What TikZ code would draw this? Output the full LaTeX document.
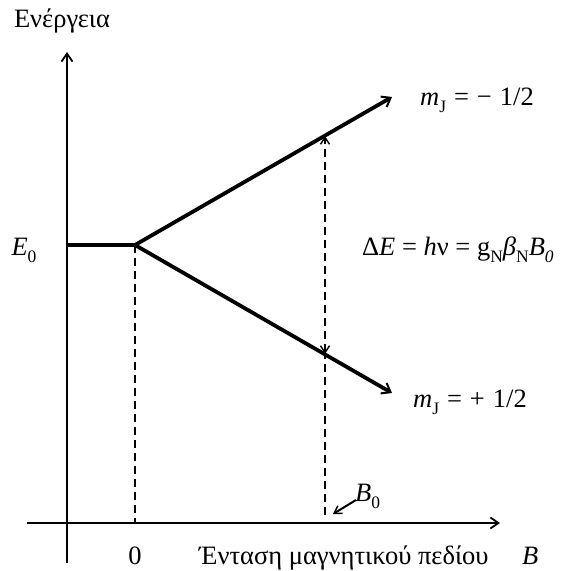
\documentclass[tikz,border=0pt]{standalone}
\usepackage{fontspec}
\usepackage{graphicx}
\setmainfont{Liberation Serif}
\usetikzlibrary{arrows.meta}
\newcommand\lowsub[1]{\raisebox{-0.28em}{\scalebox{0.66}{#1}}}
\tikzset{
  lbl/.style={inner sep=0pt, font=\fontsize{26.5}{30}\selectfont},
  axisline/.style={line width=2.8pt, -{Straight Barb[length=8pt,width=11pt,line width=1.8pt]}},
  levelline/.style={line width=3.8pt},
  levelarrow/.style={line width=3.8pt, -{Straight Barb[length=8pt,width=12pt,line width=2pt]}},
  dashline/.style={line width=1.8pt, dash pattern=on 8pt off 5pt},
  gaparrow/.style={line width=1.8pt, dash pattern=on 8pt off 5pt, {Straight Barb[length=7pt,width=9pt,line width=1.4pt]}-{Straight Barb[length=7pt,width=9pt,line width=1.4pt]}},
  ptr/.style={line width=2pt, -{Straight Barb[length=7pt,width=9pt,line width=1.5pt]}}
}
\begin{document}
\begin{tikzpicture}[x=1pt,y=-1pt]
\useasboundingbox (0,0) rectangle (571,571);
% coordinates
\coordinate (ybot) at (67,563);
\coordinate (ytop) at (67,52);
\coordinate (xl) at (27,523);
\coordinate (xr) at (500,523);
\coordinate (e0) at (67,245);
\coordinate (split) at (135,245);
\coordinate (zero) at (135,523);
\coordinate (up) at (392,97);
\coordinate (dn) at (392,393);
\coordinate (gtop) at (325,136);
\coordinate (gbot) at (325,354);
\coordinate (gaxis) at (325,515);
\coordinate (ptail) at (356,500);
\coordinate (phead) at (333,514);
% axes
\draw[axisline] (ybot) -- (ytop);
\draw[axisline] (xl) -- (xr);
% levels
\draw[levelline] (e0) -- (split);
\draw[levelarrow] (split) -- (up);
\draw[levelarrow] (split) -- (dn);
% dashed
\draw[dashline] (split) -- (zero);
\draw[dashline] (gaxis) -- (gbot);
\draw[gaparrow] (gbot) -- (gtop);
\draw[ptr] (ptail) -- (phead);
% labels
\node[lbl, anchor=base] (ylab) at (62,27) {Ενέργεια};
\node[lbl, anchor=base] (e0lab) at (24,255) {\textit{E}\lowsub{0}};
\node[lbl, anchor=base west] (mup) at (420,105) {\textit{m}\lowsub{J}\hspace{0.3em}=\hspace{0.3em}−\hspace{0.3em}1/2};
\node[lbl, anchor=base west] (mdn) at (413,407) {\textit{m}\lowsub{J}\hspace{0.3em}=\hspace{0.3em}+\hspace{0.3em}1/2};
\node[lbl, anchor=base west] (de) at (362,255) {Δ\textit{E} = \textit{h}ν = g\lowsub{N}\textit{β}\lowsub{N}\textit{B}\lowsub{\textit{0}}};
\node[lbl, anchor=base west] (b0) at (355,501) {\textit{B}\lowsub{0}};
\node[lbl, anchor=base] (zlab) at (135,564) {0};
\node[lbl, anchor=base west] (xlab) at (199,564) {Ένταση μαγνητικού πεδίου};
\node[lbl, anchor=base west] (blab) at (522,564) {\textit{B}};
\end{tikzpicture}
\end{document}
